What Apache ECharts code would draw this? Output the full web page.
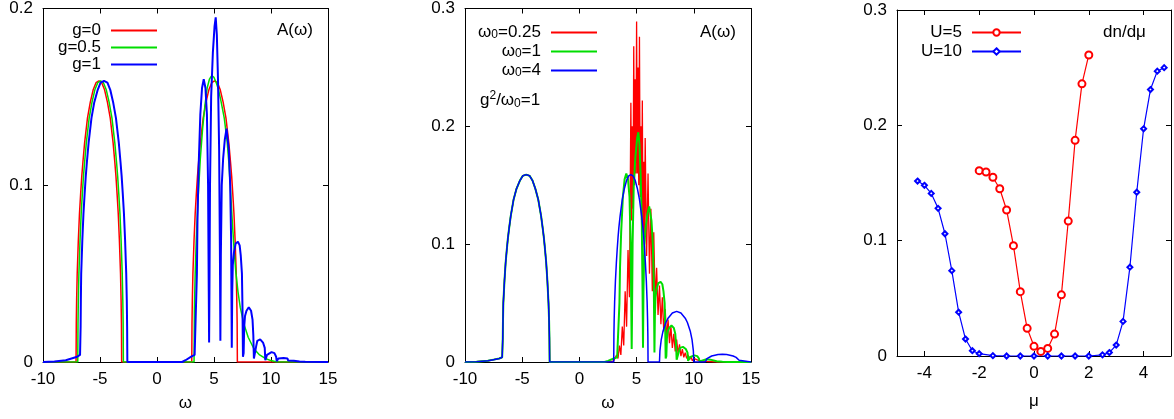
<!DOCTYPE html>
<html><head><meta charset="utf-8">
<script src="https://cdn.jsdelivr.net/npm/echarts@6/dist/echarts.min.js"></script>
<style>html,body{margin:0;padding:0;background:#fff}#c{width:1174px;height:419px}</style>
</head><body><div id="c"></div>
<script>
// ---------- DATA ----------
// Panel 1: A(omega) for g = 0, 0.5, 1   ([omega, A] pairs)
const curveG0 = [[-10,0],[-7.1,0],[-7.08,0.022],[-7.05,0.035],[-7.0,0.05],[-6.9,0.069],[-6.8,0.084],[-6.7,0.095],[-6.6,0.105],[-6.5,0.113],[-6.35,0.124],[-6.1,0.138],[-5.85,0.147],[-5.6,0.154],[-5.35,0.158],[-5.1,0.159],[-4.85,0.158],[-4.6,0.154],[-4.35,0.147],[-4.1,0.138],[-3.85,0.124],[-3.7,0.113],[-3.6,0.105],[-3.5,0.095],[-3.4,0.084],[-3.3,0.069],[-3.2,0.05],[-3.15,0.035],[-3.12,0.022],[-3.1,0],
 [3.05,0],[3.07,0.022],[3.1,0.035],[3.15,0.05],[3.25,0.069],[3.35,0.084],[3.45,0.095],[3.55,0.105],[3.65,0.113],[3.8,0.124],[4.05,0.138],[4.3,0.147],[4.55,0.154],[4.8,0.158],[5.05,0.159],[5.3,0.158],[5.55,0.154],[5.8,0.147],[6.05,0.138],[6.3,0.124],[6.45,0.113],[6.55,0.105],[6.65,0.095],[6.75,0.084],[6.85,0.069],[6.95,0.05],[7.0,0.035],[7.03,0.022],[7.05,0],[15,0]];
const curveG05 = [[-10,0],[-6.95,0],[-6.93,0.022],[-6.9,0.035],[-6.85,0.05],[-6.75,0.069],[-6.65,0.084],[-6.55,0.095],[-6.45,0.105],[-6.35,0.113],[-6.2,0.124],[-5.95,0.138],[-5.7,0.147],[-5.45,0.154],[-5.2,0.158],[-4.95,0.159],[-4.7,0.158],[-4.45,0.154],[-4.2,0.147],[-3.95,0.138],[-3.7,0.124],[-3.55,0.113],[-3.45,0.105],[-3.35,0.095],[-3.25,0.084],[-3.15,0.069],[-3.05,0.05],[-3.0,0.035],[-2.97,0.022],[-2.95,0],
 [3.25,0],[3.28,0.03],[3.35,0.05],[3.45,0.07],[3.6,0.092],[3.8,0.115],[4.0,0.132],[4.2,0.145],[4.4,0.155],[4.6,0.16],[4.8,0.162],[5.0,0.161],[5.2,0.158],[5.4,0.154],[5.6,0.148],[5.9,0.138],[6.15,0.125],[6.3,0.113],[6.45,0.097],[6.6,0.08],[6.75,0.065],[6.9,0.052],[7.1,0.04],[7.3,0.031],[7.6,0.022],[8.0,0.014],[8.5,0.0075],[9.0,0.004],[9.5,0.002],[10.0,0.0008],[10.5,0],[15,0]];
// shared lower band of the g=1 / g^2/omega0=1 spectra
const lowerBandG1 = [[-10,0],[-9,0.0003],[-8,0.001],[-7.5,0.002],[-7,0.003],[-6.75,0.004],[-6.7,0.02],[-6.68,0.035],[-6.65,0.05],[-6.55,0.069],[-6.45,0.084],[-6.35,0.095],[-6.25,0.105],[-6.15,0.113],[-6.0,0.124],[-5.75,0.138],[-5.5,0.147],[-5.2,0.154],[-4.95,0.158],[-4.65,0.159],[-4.35,0.158],[-4.1,0.154],[-3.85,0.147],[-3.6,0.138],[-3.35,0.124],[-3.2,0.113],[-3.1,0.105],[-3.0,0.095],[-2.9,0.084],[-2.8,0.069],[-2.7,0.05],[-2.65,0.035],[-2.62,0.02],[-2.6,0]];
const upperBandG1 = [[2.2,0],[2.5,0.001],[3.0,0.003],[3.3,0.004],[3.45,0.005],[3.5,0.05],[3.55,0.08],[3.65,0.11],[3.8,0.14],[3.95,0.155],[4.1,0.16],[4.25,0.155],[4.38,0.14],[4.48,0.1],[4.54,0.04],[4.57,0.011],[4.6,0.04],[4.65,0.1],[4.75,0.15],[4.9,0.175],[5.05,0.19],[5.15,0.195],[5.25,0.185],[5.35,0.16],[5.45,0.12],[5.52,0.06],[5.56,0.012],[5.6,0.06],[5.68,0.1],[5.8,0.115],[5.95,0.126],[6.1,0.132],[6.2,0.131],[6.3,0.12],[6.42,0.1],[6.5,0.07],[6.56,0.008],[6.6,0.04],[6.65,0.055],[6.75,0.062],[6.9,0.067],[7.1,0.068],[7.25,0.066],[7.35,0.06],[7.45,0.05],[7.5,0.03],[7.54,0.003],[7.6,0.005],[7.65,0.02],[7.72,0.026],[7.85,0.029],[8.05,0.031],[8.25,0.029],[8.38,0.024],[8.45,0.015],[8.5,0.002],[8.65,0.003],[8.7,0.009],[8.8,0.012],[9.05,0.0128],[9.3,0.011],[9.45,0.008],[9.5,0.001],[9.6,0.001],[9.65,0.004],[9.75,0.005],[10.05,0.0056],[10.3,0.005],[10.45,0.003],[10.5,0.0005],[10.6,0.001],[10.65,0.002],[11.1,0.0023],[11.45,0.002],[11.5,0.0008],[12,0.0007],[12.5,0.0003],[13,0.0001],[15,0]];
// Panel 2: g^2/omega0 = 1, omega0 = 0.25, 1, 4
const upperW025 = [[2.2,0],[2.8,0.0005],[3.0,0.001],[3.125,0.002],[3.25,0.006],[3.375,0.003],[3.5,0.014],[3.625,0.006],[3.75,0.03],[3.875,0.014],[4.0,0.06],[4.125,0.03],[4.25,0.095],[4.375,0.055],[4.5,0.22],[4.5625,0.12],[4.625,0.2],[4.6875,0.13],[4.75,0.268],[4.8125,0.15],[4.875,0.24],[4.9375,0.16],[5.0,0.289],[5.0625,0.16],[5.125,0.25],[5.1875,0.15],[5.25,0.276],[5.3125,0.14],[5.375,0.2],[5.4375,0.12],[5.5,0.222],[5.5625,0.11],[5.625,0.17],[5.6875,0.1],[5.75,0.19],[5.875,0.09],[6.0,0.16],[6.125,0.075],[6.25,0.13],[6.375,0.06],[6.5,0.11],[6.625,0.05],[6.75,0.08],[6.875,0.04],[7.0,0.065],[7.125,0.032],[7.25,0.055],[7.375,0.026],[7.5,0.045],[7.625,0.02],[7.75,0.036],[7.875,0.016],[8.0,0.03],[8.125,0.012],[8.25,0.024],[8.375,0.009],[8.5,0.019],[8.625,0.007],[8.75,0.015],[8.875,0.005],[9.0,0.011],[9.125,0.004],[9.25,0.008],[9.375,0.003],[9.5,0.006],[9.625,0.002],[9.75,0.0045],[9.875,0.001],[10.0,0.003],[10.25,0.002],[10.5,0.001],[11,0.0005],[12,0],[15,0]];
const upperW4 = [[2.2,0],[3.0,0],[3.015,0.022],[3.04,0.036],[3.08,0.051],[3.15,0.069],[3.23,0.084],[3.3,0.095],[3.38,0.106],[3.45,0.114],[3.56,0.124],[3.75,0.138],[3.94,0.1475],[4.12,0.154],[4.31,0.158],[4.5,0.159],[4.69,0.158],[4.88,0.154],[5.06,0.1475],[5.25,0.138],[5.44,0.124],[5.55,0.114],[5.62,0.106],[5.7,0.095],[5.77,0.084],[5.85,0.069],[5.92,0.051],[5.96,0.036],[5.985,0.022],[6.0,0],
 [7.0,0],[7.04,0.0097],[7.15,0.0187],[7.3,0.0258],[7.56,0.0335],[7.75,0.0372],[8.125,0.0416],[8.5,0.043],[8.875,0.0416],[9.25,0.0372],[9.44,0.0335],[9.7,0.0258],[9.85,0.0187],[9.96,0.0097],[10.0,0],
 [11.0,0],[11.04,0.0015],[11.15,0.0028],[11.3,0.0039],[11.56,0.0051],[11.75,0.0056],[12.125,0.0063],[12.5,0.0065],[12.875,0.0063],[13.25,0.0056],[13.44,0.0051],[13.7,0.0039],[13.85,0.0028],[13.96,0.0015],[14.0,0],[15,0]];
// Panel 3: dn/dmu vs mu
const muU5 = [-2,-1.75,-1.5,-1.25,-1,-0.75,-0.5,-0.25,0,0.25,0.5,0.75,1,1.25,1.5,1.75,2];
const dndmuU5 = [0.1607,0.1595,0.155,0.145,0.1266,0.0957,0.0558,0.024,0.0084,0.004,0.0066,0.019,0.053,0.117,0.187,0.236,0.261];
const muU10 = [-4.25,-4,-3.75,-3.5,-3.25,-3,-2.75,-2.5,-2.25,-2,-1.5,-1,-0.5,0,0.5,1,1.5,2,2.5,2.75,3,3.25,3.5,3.75,4,4.25,4.5,4.75];
const dndmuU10 = [0.1517,0.148,0.141,0.128,0.106,0.074,0.038,0.0147,0.0046,0.002,0.0003,0,0,0,0,0,0,0,0.001,0.003,0.0095,0.030,0.077,0.142,0.197,0.231,0.247,0.250];
// tick labels
const omegaTicks = [-10,-5,0,5,10,15];
const muTicks = [-4,-2,0,2,4];

// ---------- CHART ----------
const FONT = 'Liberation Sans';
const RED = '#ff0000', GREEN = '#00dd00', BLUE = '#0000ff';
const chart = echarts.init(document.getElementById('c'), null, {renderer: 'canvas'});

const grids = [
  {left: 43, top: 7, width: 285, height: 355},
  {left: 465, top: 7, width: 286, height: 355},
  {left: 897, top: 10, width: 274, height: 346}
];
const xAxes = [], yAxes = [];
function addAxes(gi, xr, yr, xname, nameGap, xCustom) {
  const tick = {show: true, inside: true, length: 5, lineStyle: {color: '#000', width: 1}};
  const line = {show: true, onZero: false, lineStyle: {color: '#000', width: 1}};
  const lab = {color: '#000', fontSize: 17, fontFamily: FONT, margin: 9};
  const xb = {type: 'value', gridIndex: gi, min: xr[0], max: xr[1], position: 'bottom',
    axisLine: line, axisTick: Object.assign({}, tick), axisLabel: Object.assign({}, lab), splitLine: {show: false},
    name: xname, nameLocation: 'middle', nameGap: nameGap, nameTextStyle: {color: '#000', fontSize: 17, fontFamily: FONT}};
  const xt = {type: 'value', gridIndex: gi, min: xr[0], max: xr[1], position: 'top',
    axisLine: line, axisTick: Object.assign({}, tick), axisLabel: {show: false}, splitLine: {show: false}};
  if (xCustom) {
    xb.axisTick.customValues = xCustom; xb.axisLabel.customValues = xCustom;
    xt.axisTick.customValues = xCustom;
  } else { xb.interval = xr[2]; xt.interval = xr[2]; }
  xAxes.push(xb, xt);
  yAxes.push({type: 'value', gridIndex: gi, min: yr[0], max: yr[1], interval: yr[2], position: 'left',
    axisLine: line, axisTick: tick, axisLabel: Object.assign({}, lab, {margin: 10}), splitLine: {show: false}},
    {type: 'value', gridIndex: gi, min: yr[0], max: yr[1], interval: yr[2], position: 'right',
    axisLine: line, axisTick: tick, axisLabel: {show: false}, splitLine: {show: false}});
}
addAxes(0, [omegaTicks[0], omegaTicks[omegaTicks.length-1], 5], [0, 0.2, 0.1], 'ω', 33);
addAxes(1, [omegaTicks[0], omegaTicks[omegaTicks.length-1], 5], [0, 0.3, 0.1], 'ω', 33);
addAxes(2, [-5, 5, 2], [0, 0.3, 0.1], 'μ', 37, muTicks);

function lineSeries(name, data, color, width, p) {
  return {type: 'line', name: name, data: data, xAxisIndex: 2*p, yAxisIndex: 2*p,
    showSymbol: false, symbol: 'none', lineStyle: {color: color, width: width}, itemStyle: {color: color},
    animation: false, silent: true, z: 2};
}
const zip = (a, b) => a.map((v, i) => [v, b[i]]);
const series = [
  lineSeries('g=0', curveG0, RED, 1.5, 0),
  lineSeries('g=0.5', curveG05, GREEN, 1.5, 0),
  lineSeries('g=1', lowerBandG1.concat(upperBandG1), BLUE, 2, 0),
  lineSeries('ω0=0.25', lowerBandG1.concat(upperW025), RED, 1.3, 1),
  lineSeries('ω0=1', lowerBandG1.concat(upperBandG1), GREEN, 2, 1),
  lineSeries('ω0=4', lowerBandG1.concat(upperW4), BLUE, 1.5, 1),
  {type: 'line', name: 'U=5', data: zip(muU5, dndmuU5), xAxisIndex: 4, yAxisIndex: 4,
    symbol: 'emptyCircle', symbolSize: 7, lineStyle: {color: RED, width: 1.2},
    itemStyle: {color: RED, borderColor: RED, borderWidth: 1}, animation: false},
  {type: 'line', name: 'U=10', data: zip(muU10, dndmuU10), xAxisIndex: 4, yAxisIndex: 4,
    symbol: 'emptyDiamond', symbolSize: 5, lineStyle: {color: BLUE, width: 1.2},
    itemStyle: {color: BLUE, borderColor: BLUE, borderWidth: 2}, animation: false}
];

const txt = {color: '#000', fontSize: 17, fontFamily: FONT};
const rich = {
  a: {color: '#000', fontSize: 17, fontFamily: FONT, lineHeight: 17},
  s: {color: '#000', fontSize: 12, fontFamily: FONT, lineHeight: 17, verticalAlign: 'bottom', padding: [7, 0, 0, 0]}
};
function legendBox(names, right, top, itemWidth, itemHeight, gap, fmt, hideSym) {
  const lg = {data: names, orient: 'vertical', align: 'right', right: right, top: top, padding: 0,
    itemWidth: itemWidth, itemHeight: itemHeight, itemGap: gap, selectedMode: false,
    textStyle: Object.assign({}, txt, {lineHeight: 17, padding: [0, 5, 0, 0], rich: rich}), formatter: fmt};
  if (hideSym) lg.itemStyle = {opacity: 0};
  return lg;
}
const option = {
  backgroundColor: '#fff',
  grid: grids,
  xAxis: xAxes,
  yAxis: yAxes,
  legend: [
    legendBox(['g=0', 'g=0.5', 'g=1'], 1016, 22, 46, 12, 0, n => '{a|' + n + '}', true),
    legendBox(['ω0=0.25', 'ω0=1', 'ω0=4'], 576, 22, 46, 12, 0, n => '{a|ω}{s|0}{a|' + n.slice(2) + '}', true),
    legendBox(['U=5', 'U=10'], 152, 24, 49, 8, 2, n => '{a|' + n + '}', false)
  ],
  series: series,
  graphic: [
    {type: 'text', left: 277, top: 22, style: Object.assign({text: 'A(ω)'}, txt)},
    {type: 'text', left: 700, top: 24, style: Object.assign({text: 'A(ω)'}, txt)},
    {type: 'text', left: 1103, top: 24, style: Object.assign({text: 'dn/dμ'}, txt)},
    {type: 'text', left: 480, top: 90, style: {text: '{a|g}{p|2}{a|/ω}{s|0}{a|=1}', rich: {
      a: {color: '#000', fontSize: 17, fontFamily: FONT, lineHeight: 20},
      p: {color: '#000', fontSize: 12, fontFamily: FONT, lineHeight: 20, verticalAlign: 'top', padding: [0, 0, 8, 0]},
      s: {color: '#000', fontSize: 12, fontFamily: FONT, lineHeight: 20, verticalAlign: 'bottom', padding: [8, 0, 0, 0]}
    }}}
  ]
};
chart.setOption(option);
</script></body></html>
